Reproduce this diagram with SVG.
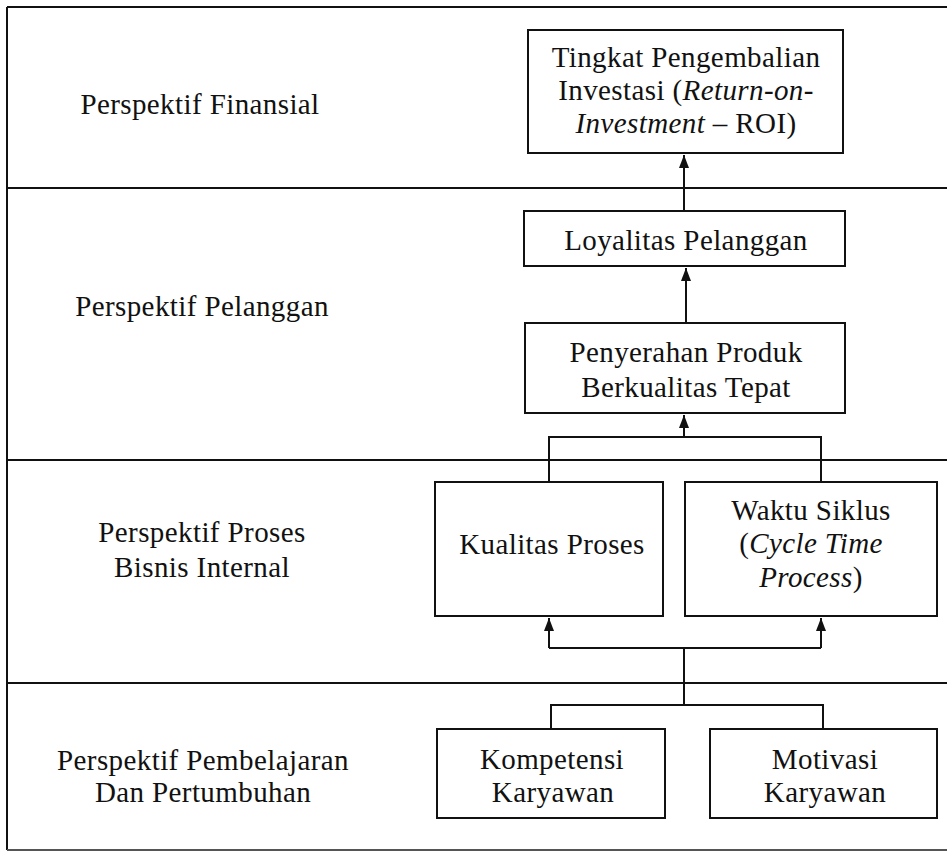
<svg xmlns="http://www.w3.org/2000/svg" width="947" height="861" viewBox="0 0 947 861">
<style>
text{font-family:"Liberation Serif","Times New Roman",serif;font-size:29px;fill:#111;letter-spacing:0.4px;text-anchor:middle}
.it{font-style:italic}
.box{fill:#fff;stroke:#111;stroke-width:2}
.frame{stroke:#111;stroke-width:2;fill:none}
.conn{stroke:#111;stroke-width:2;fill:none}
</style>
<defs>
<marker id="arr" markerUnits="userSpaceOnUse" markerWidth="12" markerHeight="14" viewBox="0 0 12 14" refX="6" refY="1" orient="auto-start-reverse">
<path d="M6,1 L11,13 L1,13 Z" fill="#111" transform="rotate(90 6 7)"/>
</marker>
<marker id="ah" markerUnits="userSpaceOnUse" markerWidth="12" markerHeight="14" viewBox="0 0 12 14" refX="13" refY="6" orient="auto">
<path d="M0,1 L13,6 L0,11 Z" fill="#111"/>
</marker>
</defs>
<g id="frame">
<line class="frame" x1="7" y1="7" x2="947" y2="7"/>
<line class="frame" x1="7" y1="7" x2="7" y2="850"/>
<line class="frame" x1="7" y1="188" x2="947" y2="188"/>
<line class="frame" x1="7" y1="460" x2="947" y2="460"/>
<line class="frame" x1="7" y1="683" x2="947" y2="683"/>
<line x1="7" y1="850" x2="947" y2="850" stroke="#555" stroke-width="2"/>
</g>
<g id="labels">
<text x="200" y="114">Perspektif Finansial</text>
<text x="202" y="316">Perspektif Pelanggan</text>
<text x="202" y="542">Perspektif Proses</text>
<text x="202" y="577">Bisnis Internal</text>
<text x="203" y="770">Perspektif Pembelajaran</text>
<text x="203" y="802">Dan Pertumbuhan</text>
</g>
<g id="connectors">
<line class="conn" x1="684" y1="210" x2="684" y2="155" marker-end="url(#ah)"/>
<line class="conn" x1="686" y1="323" x2="686" y2="268" marker-end="url(#ah)"/>
<path class="conn" d="M549,482 V437 H821 V482"/>
<line class="conn" x1="684" y1="437" x2="684" y2="415" marker-end="url(#ah)"/>
<path class="conn" d="M684,705 V648 M549,648 H821"/>
<line class="conn" x1="549" y1="648" x2="549" y2="618" marker-end="url(#ah)"/>
<line class="conn" x1="821" y1="648" x2="821" y2="618" marker-end="url(#ah)"/>
<path class="conn" d="M551,728 V705 H823 V728"/>
</g>
<g id="roi">
<rect class="box" x="528" y="30" width="315" height="123"/>
<text x="686" y="67">Tingkat Pengembalian</text>
<text x="686" y="100">Investasi (<tspan class="it">Return-on-</tspan></text>
<text x="686" y="133"><tspan class="it">Investment</tspan> – ROI)</text>
</g>
<g id="loyalitas">
<rect class="box" x="524" y="211" width="321" height="55"/>
<text x="686" y="250">Loyalitas Pelanggan</text>
</g>
<g id="penyerahan">
<rect class="box" x="525" y="323" width="320" height="90"/>
<text x="686" y="362">Penyerahan Produk</text>
<text x="686" y="397">Berkualitas Tepat</text>
</g>
<g id="kualitas">
<rect class="box" x="435" y="482" width="228" height="134"/>
<text x="552" y="554">Kualitas Proses</text>
</g>
<g id="waktu">
<rect class="box" x="685" y="482" width="252" height="134"/>
<text x="811" y="520">Waktu Siklus</text>
<text x="811" y="553">(<tspan class="it">Cycle Time</tspan></text>
<text x="811" y="587"><tspan class="it">Process</tspan>)</text>
</g>
<g id="kompetensi">
<rect class="box" x="437" y="729" width="228" height="89"/>
<text x="552" y="769">Kompetensi</text>
<text x="553" y="802">Karyawan</text>
</g>
<g id="motivasi">
<rect class="box" x="710" y="729" width="227" height="89"/>
<text x="825" y="769">Motivasi</text>
<text x="825" y="802">Karyawan</text>
</g>
</svg>
